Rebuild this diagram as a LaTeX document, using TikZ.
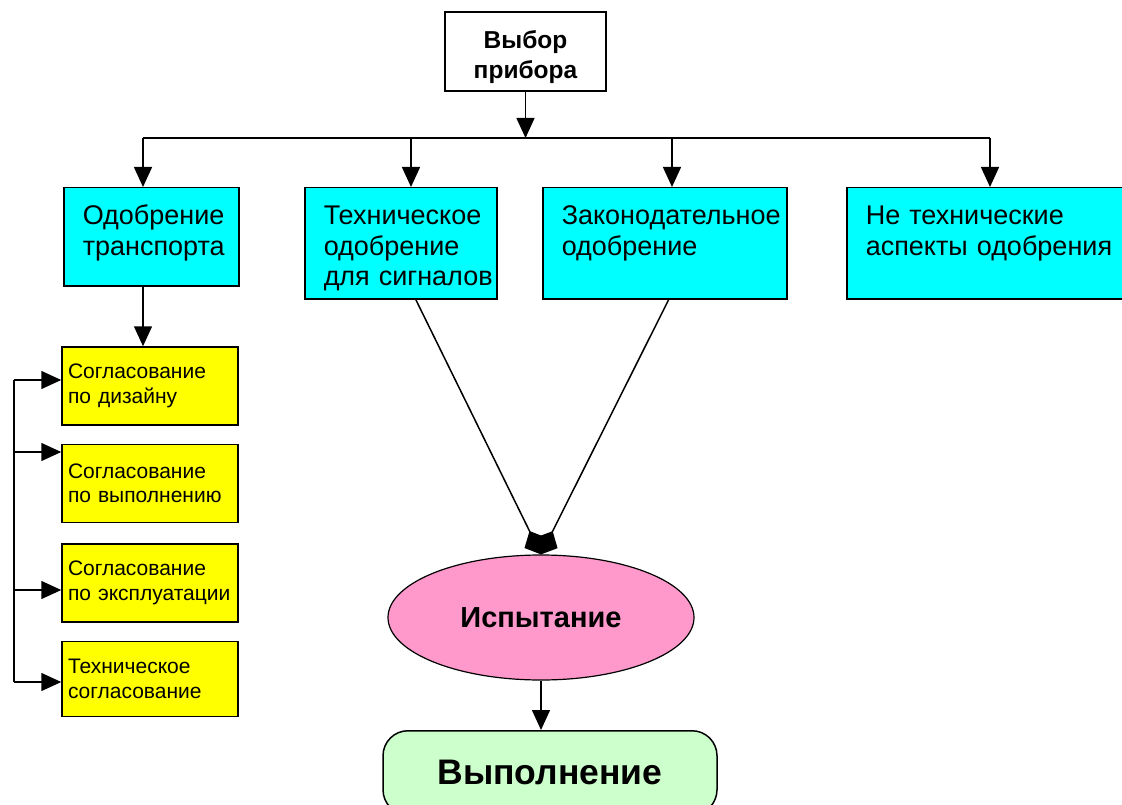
\documentclass[tikz,border=0pt]{standalone}
\usepackage{fontspec}
\setmainfont{Liberation Sans}
\usepackage{xcolor}
\usetikzlibrary{arrows.meta,positioning,shapes.geometric}
\definecolor{boxcyan}{RGB}{0,255,255}
\definecolor{boxyellow}{RGB}{255,255,0}
\definecolor{testpink}{RGB}{255,153,204}
\definecolor{donegreen}{RGB}{204,255,204}

\begin{document}
\begin{tikzpicture}[x=1pt, y=-1pt, ->, >={Triangle[length=20pt,width=18pt]}, line width=1.5pt, node distance=18pt,
    choice/.style={draw=black, fill=white, line width=1.5pt, minimum width=161pt, minimum height=79pt, align=center, text height=60pt, text depth=5pt, font=\fontsize{24.5}{30}\selectfont\bfseries},
    approval/.style={draw=black, fill=boxcyan, line width=1.5pt, anchor=north west, inner xsep=19pt, inner ysep=0pt, align=left, text height=37pt, text depth=74pt, font=\fontsize{27}{30.5}\selectfont},
    agreement/.style={draw=black, fill=boxyellow, line width=1.5pt, minimum height=78pt, text width=164pt, inner xsep=6pt, align=left, font=\fontsize{21}{24.5}\selectfont},
    test/.style={ellipse, draw=black, fill=testpink, line width=1.2pt, minimum width=306pt, minimum height=125pt, font=\fontsize{29}{32}\selectfont\bfseries},
    result/.style={draw=black, fill=donegreen, line width=1.5pt, rounded corners=25pt, minimum width=334pt, minimum height=84pt, font=\fontsize{35.5}{40}\selectfont\bfseries}]
    \useasboundingbox (0,0) rectangle (1122,805);

    \node[choice] (choice) at (525.5,51.5) {Выбор\\прибора};

    \node[approval, text width=137pt, text depth=61pt] (transport) at (63,187) {Одобрение\\транспорта};
    \node[approval, text width=154pt] (technical) at (304,187) {Техническое\\одобрение\\\mbox{для сигналов}};
    \node[approval, text width=206pt] (legal) at (542,187) {Законодательное\\одобрение};
    \node[approval, text width=246pt] (other) at (846,187) {Не технические\\\mbox{аспекты одобрения}};

    \node[agreement] (design) at (150,386) {Согласование\\по дизайну};
    \node[agreement] (perform) [below=of design] {Согласование\\по выполнению};
    \node[agreement] (operate) [below=20pt of perform] {Согласование\\по эксплуатации};
    \node[agreement] (techagree) [below=of operate, minimum height=75pt] {Техническое\\согласование};

    \node[test] (test) at (541,617.5) {Испытание};
    \node[result, anchor=north] (done) at (550,730) {Выполнение};

    % bus below the choice box
    \coordinate (b1) at (143,138);
    \coordinate (b2) at (411,138);
    \coordinate (b3) at (672,138);
    \coordinate (b4) at (990,138);
    \path (choice) edge (choice.south |- b1);
    \draw[-] (b1) -- (b4);
    \path (b1) edge (b1 |- transport.north)
        (b2) edge (b2 |- technical.north)
        (b3) edge (b3 |- legal.north)
        (b4) edge (b4 |- other.north);

    \path (b1 |- transport.south) edge (b1 |- design.north);

    % rail on the left
    \coordinate (r1) at (14,380);
    \coordinate (r2) at (14,452);
    \coordinate (r3) at (14,590);
    \coordinate (r4) at (14,682);
    \draw[-] (r1) -- (r4);
    \path (r1) edge (r1 -| design.west)
        (r2) edge (r2 -| perform.west)
        (r3) edge (r3 -| operate.west)
        (r4) edge (r4 -| techagree.west);

    \path[-{Diamond[length=26pt,width=24pt]}] ([xshift=15pt]technical.south) edge (test.north)
        ([xshift=4pt]legal.south) edge (test.north);
    \path (test) edge (test.south |- done.north);
\end{tikzpicture}
\end{document}
